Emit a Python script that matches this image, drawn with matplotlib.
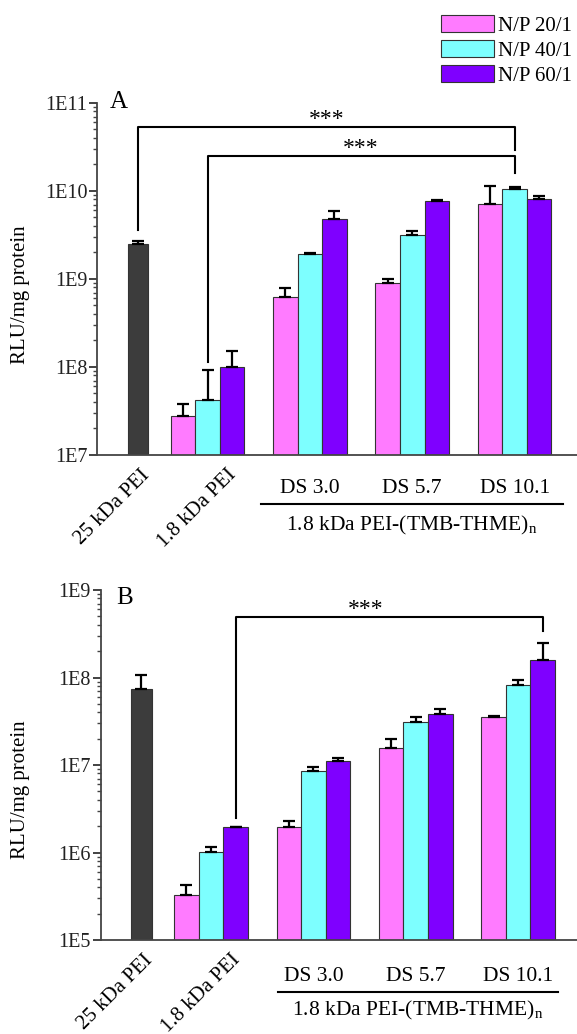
import numpy as np
import matplotlib
matplotlib.use("Agg")
import matplotlib.pyplot as plt
from matplotlib.ticker import LogLocator, FuncFormatter, NullFormatter

plt.rcParams['font.family'] = ['Liberation Serif', 'DejaVu Serif']
plt.rcParams['mathtext.fontset'] = 'custom'
plt.rcParams['mathtext.rm'] = 'Liberation Serif'

# ---- data ----
series = ['N/P 20/1', 'N/P 40/1', 'N/P 60/1']
ds_groups = ['DS 3.0', 'DS 5.7', 'DS 10.1']
bottom_labels = ['25 kDa PEI', '1.8 kDa PEI']

# panel A (groups: 1.8 kDa PEI, DS 3.0, DS 5.7, DS 10.1)
a_pei25 = 2.5e9
a_pei25_err = 2.0e8
a_np20 = [2.8e7, 6.3e8, 8.9e8, 7.2e9]
a_np20_err = [1.0e7, 1.6e8, 1.0e8, 4.3e9]
a_np40 = [4.2e7, 1.9e9, 3.2e9, 1.05e10]
a_np40_err = [5.0e7, 5.0e7, 3.0e8, 5.0e8]
a_np60 = [1.0e8, 4.8e9, 7.6e9, 8.0e9]
a_np60_err = [5.0e7, 1.1e9, 2.0e8, 7.0e8]

# panel B
b_pei25 = 7.4e7
b_pei25_err = 3.3e7
b_np20 = [3.3e5, 1.94e6, 1.58e7, 3.56e7]
b_np20_err = [9.0e4, 3.6e5, 3.9e6, 1.0e6]
b_np40 = [1.02e6, 8.6e6, 3.08e7, 8.2e7]
b_np40_err = [1.4e5, 1.0e6, 4.8e6, 1.2e7]
b_np60 = [1.94e6, 1.11e7, 3.8e7, 1.57e8]
b_np60_err = [3.0e4, 9.0e5, 5.6e6, 9.3e7]

colors = ['#FF7BFF', '#7DFFFF', '#7F00FF']
dark = '#3C3C3C'
edge = '#333333'

group_x = np.array([0.68, 1.68, 2.68, 3.68])
offsets = [-0.24, 0.0, 0.24]
bw = 0.24

fig = plt.figure(figsize=(5.77, 10.34), dpi=100)


def draw_panel(ax, pei25, pei25_err, vals, errs, ylim, letter, letter_pos, ds_y, line_y, line_x, sub_y):
    ax.bar(0, pei25, width=0.2, color=dark, edgecolor=edge, linewidth=0.8, zorder=2)
    ax.errorbar(0, pei25, yerr=[[0], [pei25_err]], fmt='none', ecolor='black',
                elinewidth=1.6, capsize=4.5, capthick=1.6, zorder=3)
    for i in range(3):
        x = group_x + offsets[i]
        ax.bar(x, vals[i], width=bw, color=colors[i], edgecolor=edge, linewidth=0.8,
               label=series[i], zorder=2)
        ax.errorbar(x, vals[i], yerr=[np.zeros(4), errs[i]], fmt='none', ecolor='black',
                    elinewidth=1.6, capsize=4.5, capthick=1.6, zorder=3)

    ax.set_yscale('log')
    ax.set_ylim(*ylim)
    ax.set_xlim(-0.40, 4.29)
    ax.yaxis.set_major_locator(LogLocator(base=10, numticks=10))
    ax.yaxis.set_minor_locator(LogLocator(base=10, subs=np.arange(2, 10), numticks=10))
    ax.yaxis.set_major_formatter(FuncFormatter(lambda v, p: f"1E{int(round(np.log10(v)))}"))
    ax.yaxis.set_minor_formatter(NullFormatter())
    ax.tick_params(axis='y', which='major', length=6, width=1.2, labelsize=14.5, pad=1, colors='#222222')
    ax.tick_params(axis='y', which='minor', length=3, width=1.0, colors='#444444')
    ax.set_xticks([])
    for s in ['top', 'right']:
        ax.spines[s].set_visible(False)
    for s in ['left', 'bottom']:
        ax.spines[s].set_color('#444444')
        ax.spines[s].set_linewidth(1.3)

    ax.text(letter_pos[0], letter_pos[1], letter, transform=ax.transAxes, fontsize=18,
            ha='left', va='top')

    trans = ax.get_xaxis_transform()
    ax.text(0.15, -0.03, bottom_labels[0], transform=trans, rotation=45,
            ha='right', va='top', fontsize=15)
    ax.text(1.0, -0.03, bottom_labels[1], transform=trans, rotation=45,
            ha='right', va='top', fontsize=15)
    for gx, lab in zip(group_x[1:], ds_groups):
        ax.text(gx, ds_y, lab, transform=trans, ha='center', va='center', fontsize=15.5)
    ax.plot(line_x, [line_y, line_y], transform=trans, color='black', lw=1.5, clip_on=False)
    ax.text(np.mean(line_x), sub_y, r'1.8 kDa PEI-(TMB-THME)$_\mathregular{n}$', transform=trans,
            ha='center', va='center', fontsize=15.5)


def bracket(ax, x0, x1, y, y0, y1, star_x):
    ax.plot([x0, x0, x1, x1], [y0, y, y, y1], color='black', lw=1.5, zorder=4, clip_on=False)
    ax.annotate('***', xy=(star_x, y), xytext=(0, 1.5), textcoords='offset points',
                ha='center', va='baseline', fontsize=17)


axA = fig.add_axes([97 / 577, 0.5600, 480 / 577, 352 / 1034])
draw_panel(axA, a_pei25, a_pei25_err, [a_np20, a_np40, a_np60], [a_np20_err, a_np40_err, a_np60_err],
           (1e7, 1e11), 'A', (0.027, 1.035), -0.094, -0.139, (1.20, 4.155), -0.20)
bracket(axA, 0.0, group_x[3], 5.3e10, 3.6e9, 2.9e10, 1.84)
bracket(axA, group_x[0], group_x[3], 2.5e10, 1.15e8, 1.6e10, 2.18)
axA.set_clip_on(False)

axB = fig.add_axes([100.5 / 577, 0.0909, 480 / 577, 350 / 1034])
draw_panel(axB, b_pei25, b_pei25_err, [b_np20, b_np40, b_np60], [b_np20_err, b_np40_err, b_np60_err],
           (1e5, 1e9), 'B', (0.032, 1.01), -0.105, -0.148, (1.334, 4.07), -0.20)
bracket(axB, group_x[0] + offsets[2], group_x[3] + offsets[2], 4.9e8, 2.5e6, 3.4e8, 2.19)

fig.text(21 / 577, 1 - 295 / 1034, 'RLU/mg protein', rotation=90, ha='center', va='center', fontsize=15)
fig.text(21 / 577, 1 - 790 / 1034, 'RLU/mg protein', rotation=90, ha='center', va='center', fontsize=15)

handles, labels = axA.get_legend_handles_labels()
fig.legend(handles, labels, loc='upper left', bbox_to_anchor=(441 / 577, 1 - 15 / 1034),
           frameon=False, fontsize=15, handlelength=2.55, handleheight=0.85,
           handletextpad=0.2, labelspacing=0.22, borderpad=0, borderaxespad=0)

fig.savefig('out.png', dpi=100)
